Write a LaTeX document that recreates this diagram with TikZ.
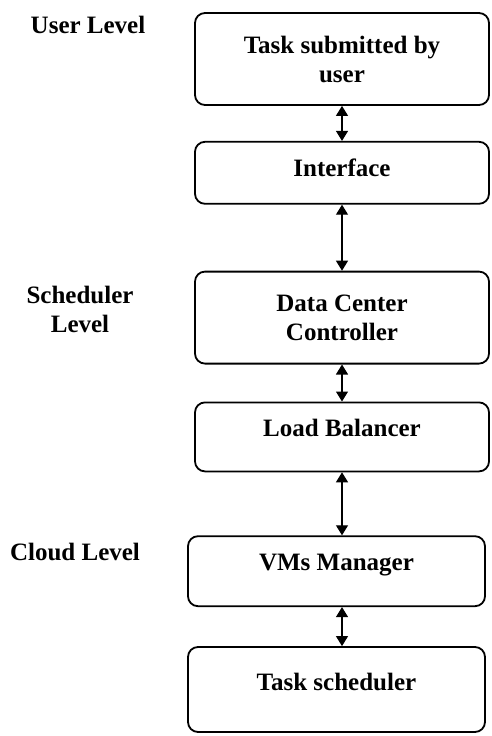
\documentclass[tikz,border=0pt]{standalone}
\usepackage{fontspec}
\setmainfont{Liberation Serif}
\usepackage{tikz}
\usetikzlibrary{arrows.meta,positioning}

\begin{document}
\begin{tikzpicture}[
  x=1pt, y=1pt, node distance=35pt,
  every node/.style={font=\bfseries\fontsize{25}{29}\selectfont},
  box/.style={draw=black, rounded corners=10pt, line width=1.8pt,
              minimum width=294pt, align=center, inner sep=3pt},
  level/.style={align=center},
  arrow/.style={{Triangle[length=10pt,width=12pt]}-{Triangle[length=10pt,width=12pt]},
                draw=black, line width=1.1pt},
]
\useasboundingbox (0,0) rectangle (491,-736);
% level labels
\node[level] (userlvl)  at (88,-25)  {User Level};
\node[level] (schedlvl) at (80,-309) {Scheduler\\Level};
\node[level] (cloudlvl) at (75,-552) {Cloud Level};
% boxes
\node[box, minimum height=92pt] (task) at (342,-59) {Task submitted by\\user};
\node[box, minimum height=62pt, text depth=10pt, below=of task] (iface) {Interface};
\node[box, minimum height=92pt, below=66pt of iface] (dcc) {Data Center\\Controller};
\node[box, minimum height=69pt, text depth=19pt, below=37pt of dcc] (lb) {Load Balancer};
\node[box, minimum height=70pt, minimum width=297pt, text depth=18pt,
      below=63pt of lb, xshift=-5.5pt] (vms) {VMs Manager};
\node[box, minimum height=85pt, minimum width=297pt, text depth=15pt,
      below=39pt of vms] (tsched) {Task scheduler};
% connectors
\foreach \a/\b in {task/iface, iface/dcc, dcc/lb} {\draw[arrow] (\a) -- (\b);}
\draw[arrow] (lb.south) -- (lb.south |- vms.north);
\draw[arrow] (vms.south -| lb.south) -- (tsched.north -| lb.south);
\end{tikzpicture}
\end{document}
